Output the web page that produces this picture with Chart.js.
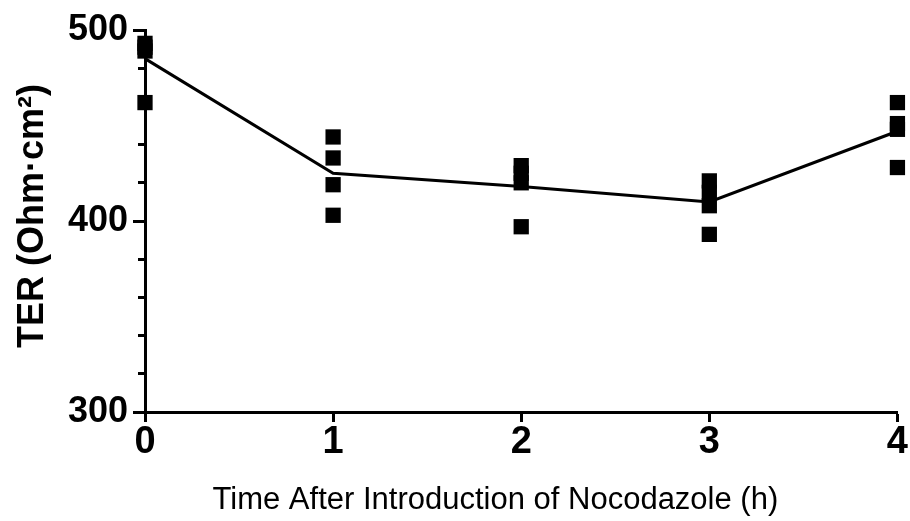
<!DOCTYPE html>
<html>
<head>
<meta charset="utf-8">
<script src="https://cdn.jsdelivr.net/npm/chart.js@4.4.1/dist/chart.umd.min.js"></script>
<style>
  body { margin: 0; background: #fff; }
  #wrap { width: 910px; height: 521px; position: relative; }
</style>
</head>
<body>
<div id="wrap"><canvas id="terChart"></canvas></div>
<script>
// hours after nocodazole
const times = [0, 1, 2, 3, 4];
// individual TER readings per time point (Ohm·cm²)
const rep1 = [493, 444, 429, 421, 462];
const rep2 = [491, 433, 425, 415, 451];
const rep3 = [489, 419, 420, 408, 448];
const rep4 = [462, 403, 397, 393, 428];
// mean line as drawn
const means = [485, 425, 418, 410, 447];
const yMajorTicks = [300, 400, 500];

const points = [];
[rep1, rep2, rep3, rep4].forEach(function(rep) {
  rep.forEach(function(v, i) { points.push({ x: times[i], y: v }); });
});
const meanLine = times.map(function(t, i) { return { x: t, y: means[i] }; });

Chart.defaults.color = '#000';

const ctx = document.getElementById('terChart').getContext('2d');
const terChart = new Chart(ctx, {
  type: 'scatter',
  data: {
    datasets: [
      {
        type: 'line',
        label: 'Mean',
        data: meanLine,
        borderColor: '#000',
        borderWidth: 3,
        pointRadius: 0,
        tension: 0,
        fill: false,
        clip: false
      },
      {
        label: 'TER',
        data: points,
        pointStyle: 'rect',
        pointRadius: 10.8,
        pointHoverRadius: 10.8,
        backgroundColor: '#000',
        borderWidth: 0,
        clip: false
      }
    ]
  },
  options: {
    responsive: true,
    maintainAspectRatio: false,
    animation: false,
    layout: { padding: { left: 0, right: 12, top: 30, bottom: 0 } },
    plugins: { legend: { display: false }, tooltip: { enabled: false } },
    scales: {
      x: {
        type: 'linear',
        min: 0,
        max: 4,
        afterFit: function(scale) { scale.height = 109; },
        ticks: {
          stepSize: 1,
          padding: 2,
          font: { family: 'Liberation Sans', weight: 'bold', size: 38, lineHeight: 1 }
        },
        grid: { drawOnChartArea: false, tickLength: 10, tickWidth: 3, tickColor: '#000' },
        border: { color: '#000', width: 3 },
        title: {
          display: true,
          text: 'Time After Introduction of Nocodazole (h)' + '\u00a0'.repeat(6),
          font: { family: 'Liberation Sans', size: 31, lineHeight: 1.2 },
          padding: { top: 0, bottom: 2 }
        }
      },
      y: {
        type: 'linear',
        position: 'left',
        weight: 2,
        min: 300,
        max: 500,
        afterFit: function(scale) { scale.width = 145; },
        afterBuildTicks: function(scale) {
          scale.ticks = yMajorTicks.map(function(v) { return { value: v }; });
        },
        ticks: {
          padding: 5,
          font: { family: 'Liberation Sans', weight: 'bold', size: 36 }
        },
        grid: { drawOnChartArea: false, tickLength: 12, tickWidth: 3, tickColor: '#000' },
        border: { color: '#000', width: 3 },
        title: {
          display: true,
          text: '\u00a0TER (Ohm·cm²)',
          font: { family: 'Liberation Sans', weight: 'bold', size: 36, lineHeight: 1.2 },
          padding: { top: 11, bottom: 0 }
        }
      },
      yMinor: {
        type: 'linear',
        position: 'left',
        weight: 0,
        min: 300,
        max: 500,
        afterFit: function(scale) { scale.width = 0; },
        ticks: { stepSize: 20, display: false },
        grid: { drawOnChartArea: false, tickLength: 7, tickWidth: 3, tickColor: '#000' },
        border: { display: false }
      }
    }
  }
});
</script>
</body>
</html>
